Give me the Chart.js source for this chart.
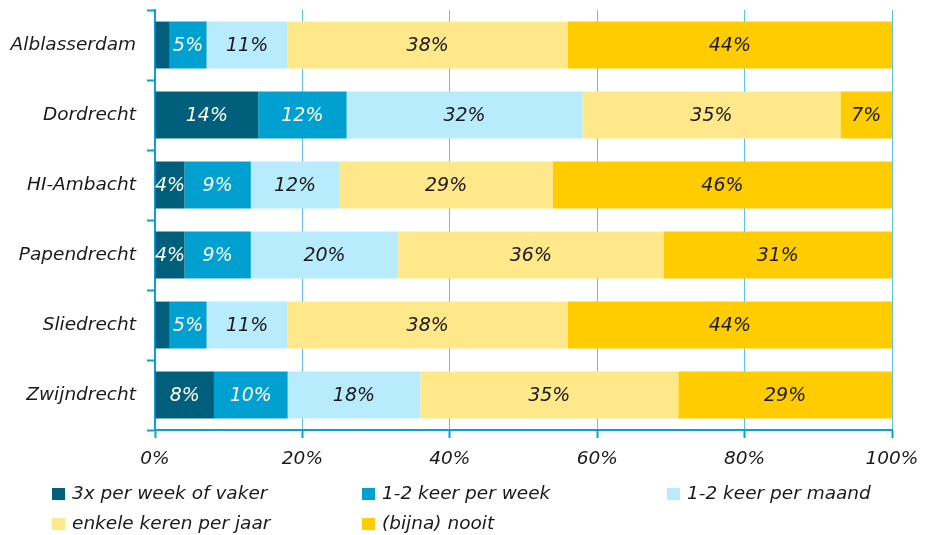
<!DOCTYPE html>
<html>
<head>
<meta charset="utf-8">
<script src="https://cdn.jsdelivr.net/npm/chart.js@4"></script>
<style>
  html, body { margin: 0; padding: 0; background: #fff; }
  #wrap { width: 933px; height: 535px; }
</style>
</head>
<body>
<div id="wrap"><canvas id="chart" width="933" height="535"></canvas></div>
<script>
const categories = ['Alblasserdam', 'Dordrecht', 'HI-Ambacht', 'Papendrecht', 'Sliedrecht', 'Zwijndrecht'];
const seriesNames = ['3x per week of vaker', '1-2 keer per week', '1-2 keer per maand', 'enkele keren per jaar', '(bijna) nooit'];
const weekly3x = [2, 14, 4, 4, 2, 8];
const weekly12 = [5, 12, 9, 9, 5, 10];
const monthly12 = [11, 32, 12, 20, 11, 18];
const yearly = [38, 35, 29, 36, 38, 35];
const never = [44, 7, 46, 31, 44, 29];
const xTicks = [0, 20, 40, 60, 80, 100];

const colors = ['#005f7a', '#00a0d0', '#b8ecfc', '#ffe88a', '#ffcc00'];
const labelColors = ['#ffffff', '#ffffff', '#1a1a1a', '#1a1a1a', '#1a1a1a'];
const FONT = '"DejaVu Sans", Verdana, sans-serif';
const SIZE = 18.5;
const AXIS = '#0aa0d6';

// waarden midden in elk segment
const barLabels = {
    id: 'barLabels',
    afterDatasetsDraw(chart) {
        const ctx = chart.ctx;
        ctx.save();
        ctx.font = 'italic 19px ' + FONT;
        ctx.textAlign = 'center';
        ctx.textBaseline = 'middle';
        chart.data.datasets.forEach((ds, i) => {
            chart.getDatasetMeta(i).data.forEach((bar, j) => {
                const v = ds.data[j];
                if (v < 3) return;
                ctx.fillStyle = labelColors[i];
                ctx.fillText(v + '%', (bar.x + bar.base) / 2, bar.y + 1);
            });
        });
        ctx.restore();
    }
};

// legenda in drie kolommen
const gridLegend = {
    id: 'gridLegend',
    afterDraw(chart) {
        const ctx = chart.ctx;
        const colX = [52, 362, 667];
        const rowY = [494, 524];
        ctx.save();
        ctx.font = 'italic ' + SIZE + 'px ' + FONT;
        ctx.textBaseline = 'middle';
        ctx.textAlign = 'left';
        chart.data.datasets.forEach((ds, i) => {
            const x = colX[i % 3];
            const y = rowY[Math.floor(i / 3)];
            ctx.fillStyle = ds.backgroundColor;
            ctx.fillRect(x, y - 6, 13, 12);
            ctx.fillStyle = '#1a1a1a';
            ctx.fillText(ds.label, x + 20, y);
        });
        ctx.restore();
    }
};

const values = [weekly3x, weekly12, monthly12, yearly, never];

new Chart(document.getElementById('chart'), {
    type: 'bar',
    data: {
        labels: categories,
        datasets: values.map((d, i) => ({
            label: seriesNames[i],
            data: d,
            backgroundColor: colors[i],
            borderWidth: 0,
            barPercentage: 0.67,
            categoryPercentage: 1.0
        }))
    },
    options: {
        indexAxis: 'y',
        responsive: false,
        animation: false,
        layout: { padding: { left: 0, right: 41, top: 10, bottom: 0 } },
        plugins: {
            legend: { display: false },
            tooltip: { enabled: false }
        },
        scales: {
            x: {
                stacked: true,
                min: 0,
                max: 100,
                afterBuildTicks: (axis) => { axis.ticks = xTicks.map(v => ({ value: v })); },
                afterFit: (axis) => { axis.height = 105; },
                ticks: {
                    callback: (v) => v + '%',
                    color: '#1a1a1a',
                    font: { family: FONT, size: SIZE, style: 'italic' },
                    padding: 10
                },
                grid: {
                    color: '#5ec3e8',
                    lineWidth: 1,
                    tickLength: 8,
                    tickColor: AXIS,
                    tickWidth: 2
                },
                border: { color: AXIS, width: 2 }
            },
            y: {
                stacked: true,
                afterFit: (axis) => {
                    axis.width = 155;
                    axis.paddingTop = 0;
                    axis.paddingBottom = 0;
                },
                ticks: {
                    color: '#1a1a1a',
                    font: { family: FONT, size: SIZE, style: 'italic' },
                    padding: 11
                },
                grid: {
                    offset: true,
                    drawOnChartArea: false,
                    tickLength: 8,
                    tickColor: AXIS,
                    tickWidth: 2
                },
                border: { color: AXIS, width: 2 }
            }
        }
    },
    plugins: [barLabels, gridLegend]
});
</script>
</body>
</html>
